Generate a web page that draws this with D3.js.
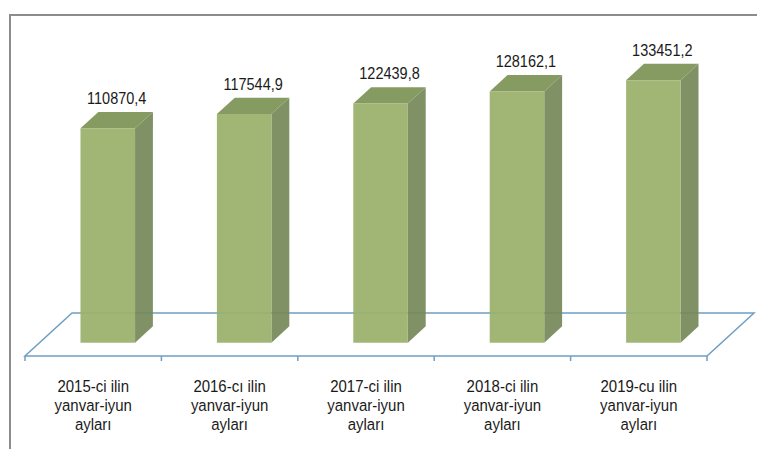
<!DOCTYPE html>
<html>
<head>
<meta charset="utf-8">
<script src="https://cdn.jsdelivr.net/npm/d3@7"></script>
<style>
  body { margin: 0; background: #fff; }
  svg text { font-family: "Liberation Sans", Arial, sans-serif; fill: #1a1a1a; }
</style>
</head>
<body>
<svg id="chart" width="757" height="449"></svg>
<script>
// data
const categories = ["2015-ci ilin\nyanvar-iyun\naylar\u0131", "2016-c\u0131 ilin\nyanvar-iyun\naylar\u0131",
                    "2017-ci ilin\nyanvar-iyun\naylar\u0131", "2018-ci ilin\nyanvar-iyun\naylar\u0131",
                    "2019-cu ilin\nyanvar-iyun\naylar\u0131"];
const values = [110870.4, 117544.9, 122439.8, 128162.1, 133451.2];
const yDomain = [10000, 140000];

const svg = d3.select("#chart");
const W = 757, H = 449;
const stretch = 1.2; // text in the picture is a bit tall and narrow

// frame (top + left border)
svg.append("path")
    .attr("d", `M10,${H} L10,15 L${W},15`)
    .attr("fill", "none")
    .attr("stroke", "#8c8c8c")
    .attr("stroke-width", 2);

// 3d setup
const floorY = 356, depthX = 47, depthY = 43;
const proj = (x, y, z) => [x + z * depthX, y - z * depthY];
const z0 = 0.31, z1 = 0.69;

const x = d3.scaleBand().domain(categories).range([25, 707]).paddingInner(0.6).paddingOuter(0.3);
const y = d3.scaleLinear().domain(yDomain).range([floorY, floorY - 0.002126 * (yDomain[1] - yDomain[0])]);
const step = x.step();
const xLeft = 25, xRight = 707;

// floor
const fl = [proj(xLeft, floorY, 0), proj(xRight, floorY, 0), proj(xRight, floorY, 1), proj(xLeft, floorY, 1)];
svg.append("polygon")
    .attr("points", fl.map(p => p.join(",")).join(" "))
    .attr("fill", "none")
    .attr("stroke", "#6f9fc2")
    .attr("stroke-width", 1.5);

// ticks on the front edge
svg.append("g").selectAll("line")
    .data(d3.range(categories.length + 1))
    .join("line")
    .attr("x1", i => xLeft + i * step).attr("x2", i => xLeft + i * step)
    .attr("y1", floorY).attr("y2", floorY + 5)
    .attr("stroke", "#6f9fc2")
    .attr("stroke-width", 1.5);

// bars
const fmt = d3.formatLocale({decimal: ",", thousands: "", grouping: [3]}).format(".1f");
const bars = svg.append("g").selectAll("g")
    .data(categories.map((c, i) => ({c, v: values[i]})))
    .join("g");

const poly = pts => pts.map(p => p.join(",")).join(" ");

bars.each(function(d) {
    const g = d3.select(this);
    const xa = x(d.c), xb = x(d.c) + x.bandwidth();
    const yt = y(d.v), yb = floorY;
    // side face
    g.append("polygon")
        .attr("points", poly([proj(xb, yb, z0), proj(xb, yb, z1), proj(xb, yt, z1), proj(xb, yt, z0)]))
        .attr("fill", "#76895a").attr("fill-opacity", 0.93);
    // top face
    g.append("polygon")
        .attr("points", poly([proj(xa, yt, z0), proj(xb, yt, z0), proj(xb, yt, z1), proj(xa, yt, z1)]))
        .attr("fill", "#7f9659").attr("fill-opacity", 0.95);
    // front face
    g.append("polygon")
        .attr("points", poly([proj(xa, yb, z0), proj(xb, yb, z0), proj(xb, yt, z0), proj(xa, yt, z0)]))
        .attr("fill", "#9ab06b").attr("fill-opacity", 0.93);
    // value label
    const c = proj((xa + xb) / 2, yt, 0.5);
    const top = proj(xa, yt, z1)[1];
    g.append("text")
        .attr("transform", `translate(${c[0]},${top - 8}) scale(1,${stretch})`)
        .attr("text-anchor", "middle")
        .attr("font-size", 14.5)
        .text(fmt(d.v));
});

// category labels
svg.append("g").selectAll("g")
    .data(categories)
    .join("g")
    .attr("transform", d => `translate(${x(d) + x.bandwidth() / 2},392)`)
    .selectAll("text")
    .data(d => d.split("\n"))
    .join("text")
    .attr("transform", (t, i) => `translate(0,${i * 19}) scale(1,1.1)`)
    .attr("text-anchor", "middle")
    .attr("font-size", 15)
    .text(t => t);
</script>
</body>
</html>
